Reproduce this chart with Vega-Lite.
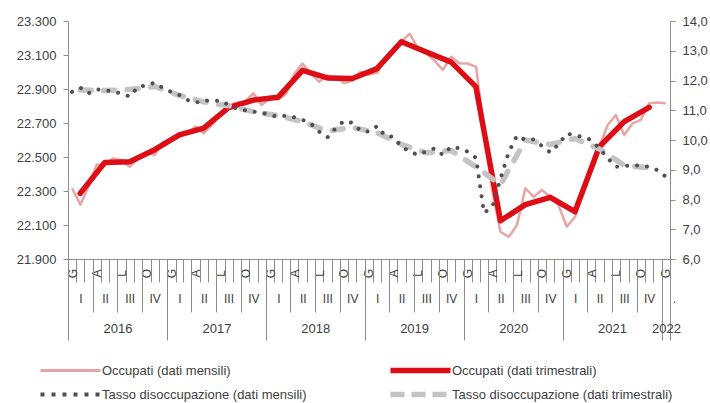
{
  "$schema": "https://vega.github.io/schema/vega-lite/v6.json",
  "width": 602,
  "height": 238,
  "autosize": {"type": "none"},
  "padding": {"left": 68, "top": 21, "right": 40, "bottom": 144},
  "background": "white",
  "config": {
    "font": "Liberation Sans",
    "view": {"stroke": null},
    "axis": {"grid": false, "labelFont": "Liberation Sans", "labelFontSize": 13, "labelColor": "#404040", "domainColor": "#8c8c8c", "tickColor": "#8c8c8c", "domainWidth": 1, "tickWidth": 1}
  },
  "datasets": {
    "mensili": [
      {"data": "2016-01-16", "occupati": 22316, "tasso": 11.62},
      {"data": "2016-02-16", "occupati": 22220, "tasso": 11.76},
      {"data": "2016-03-16", "occupati": 22322, "tasso": 11.57},
      {"data": "2016-04-16", "occupati": 22455, "tasso": 11.70},
      {"data": "2016-05-16", "occupati": 22455, "tasso": 11.68},
      {"data": "2016-06-16", "occupati": 22492, "tasso": 11.62},
      {"data": "2016-07-16", "occupati": 22480, "tasso": 11.57},
      {"data": "2016-08-16", "occupati": 22443, "tasso": 11.46},
      {"data": "2016-09-16", "occupati": 22490, "tasso": 11.79},
      {"data": "2016-10-16", "occupati": 22530, "tasso": 11.83},
      {"data": "2016-11-16", "occupati": 22512, "tasso": 11.93},
      {"data": "2016-12-16", "occupati": 22585, "tasso": 11.75},
      {"data": "2017-01-16", "occupati": 22610, "tasso": 11.62},
      {"data": "2017-02-16", "occupati": 22640, "tasso": 11.51},
      {"data": "2017-03-16", "occupati": 22640, "tasso": 11.35},
      {"data": "2017-04-16", "occupati": 22680, "tasso": 11.25},
      {"data": "2017-05-16", "occupati": 22640, "tasso": 11.34},
      {"data": "2017-06-16", "occupati": 22690, "tasso": 11.30},
      {"data": "2017-07-16", "occupati": 22750, "tasso": 11.33},
      {"data": "2017-08-16", "occupati": 22800, "tasso": 11.18},
      {"data": "2017-09-16", "occupati": 22820, "tasso": 11.05},
      {"data": "2017-10-16", "occupati": 22825, "tasso": 11.00},
      {"data": "2017-11-16", "occupati": 22875, "tasso": 10.95},
      {"data": "2017-12-16", "occupati": 22806, "tasso": 10.92},
      {"data": "2018-01-16", "occupati": 22845, "tasso": 10.84},
      {"data": "2018-02-16", "occupati": 22840, "tasso": 10.78},
      {"data": "2018-03-16", "occupati": 22870, "tasso": 10.82},
      {"data": "2018-04-16", "occupati": 22990, "tasso": 10.76},
      {"data": "2018-05-16", "occupati": 23050, "tasso": 10.68},
      {"data": "2018-06-16", "occupati": 22990, "tasso": 10.55},
      {"data": "2018-07-16", "occupati": 22943, "tasso": 10.28},
      {"data": "2018-08-16", "occupati": 22980, "tasso": 10.09},
      {"data": "2018-09-16", "occupati": 22972, "tasso": 10.40},
      {"data": "2018-10-16", "occupati": 22935, "tasso": 10.64},
      {"data": "2018-11-16", "occupati": 22950, "tasso": 10.58},
      {"data": "2018-12-16", "occupati": 23002, "tasso": 10.31},
      {"data": "2019-01-16", "occupati": 22985, "tasso": 10.28},
      {"data": "2019-02-16", "occupati": 22995, "tasso": 10.47},
      {"data": "2019-03-16", "occupati": 23080, "tasso": 10.15},
      {"data": "2019-04-16", "occupati": 23130, "tasso": 10.11},
      {"data": "2019-05-16", "occupati": 23180, "tasso": 9.78},
      {"data": "2019-06-16", "occupati": 23225, "tasso": 9.61},
      {"data": "2019-07-16", "occupati": 23140, "tasso": 9.50},
      {"data": "2019-08-16", "occupati": 23110, "tasso": 9.62},
      {"data": "2019-09-16", "occupati": 23065, "tasso": 9.72},
      {"data": "2019-10-16", "occupati": 23012, "tasso": 9.50},
      {"data": "2019-11-16", "occupati": 23090, "tasso": 9.78},
      {"data": "2019-12-16", "occupati": 23051, "tasso": 9.72},
      {"data": "2020-01-16", "occupati": 23050, "tasso": 9.61},
      {"data": "2020-02-16", "occupati": 23030, "tasso": 9.40},
      {"data": "2020-03-16", "occupati": 22670, "tasso": 7.55},
      {"data": "2020-04-16", "occupati": 22300, "tasso": 7.75},
      {"data": "2020-05-16", "occupati": 22060, "tasso": 8.70},
      {"data": "2020-06-16", "occupati": 22030, "tasso": 9.60},
      {"data": "2020-07-16", "occupati": 22100, "tasso": 10.15},
      {"data": "2020-08-16", "occupati": 22316, "tasso": 10.00},
      {"data": "2020-09-16", "occupati": 22266, "tasso": 10.02},
      {"data": "2020-10-16", "occupati": 22306, "tasso": 9.80},
      {"data": "2020-11-16", "occupati": 22266, "tasso": 9.58},
      {"data": "2020-12-16", "occupati": 22217, "tasso": 9.85},
      {"data": "2021-01-16", "occupati": 22090, "tasso": 10.22},
      {"data": "2021-02-16", "occupati": 22150, "tasso": 10.15},
      {"data": "2021-03-16", "occupati": 22295, "tasso": 10.11},
      {"data": "2021-04-16", "occupati": 22430, "tasso": 10.00},
      {"data": "2021-05-16", "occupati": 22560, "tasso": 9.72},
      {"data": "2021-06-16", "occupati": 22688, "tasso": 9.39},
      {"data": "2021-07-16", "occupati": 22747, "tasso": 9.10},
      {"data": "2021-08-16", "occupati": 22629, "tasso": 9.12},
      {"data": "2021-09-16", "occupati": 22698, "tasso": 9.16},
      {"data": "2021-10-16", "occupati": 22718, "tasso": 9.13},
      {"data": "2021-11-16", "occupati": 22816, "tasso": 9.10},
      {"data": "2021-12-16", "occupati": 22820, "tasso": 8.99},
      {"data": "2022-01-16", "occupati": 22816, "tasso": 8.77}
    ],
    "trimestrali": [
      {"data": "2016-02-15", "occupati": 22286, "tasso": 11.68},
      {"data": "2016-05-16", "occupati": 22468, "tasso": 11.66},
      {"data": "2016-08-16", "occupati": 22472, "tasso": 11.70},
      {"data": "2016-11-16", "occupati": 22543, "tasso": 11.80},
      {"data": "2017-02-15", "occupati": 22630, "tasso": 11.50},
      {"data": "2017-05-16", "occupati": 22670, "tasso": 11.28},
      {"data": "2017-08-16", "occupati": 22790, "tasso": 11.15},
      {"data": "2017-11-16", "occupati": 22835, "tasso": 10.95},
      {"data": "2018-02-15", "occupati": 22852, "tasso": 10.82},
      {"data": "2018-05-16", "occupati": 23010, "tasso": 10.62},
      {"data": "2018-08-16", "occupati": 22965, "tasso": 10.30},
      {"data": "2018-11-16", "occupati": 22962, "tasso": 10.42},
      {"data": "2019-02-15", "occupati": 23020, "tasso": 10.25},
      {"data": "2019-05-16", "occupati": 23178, "tasso": 9.85},
      {"data": "2019-08-16", "occupati": 23118, "tasso": 9.57},
      {"data": "2019-11-16", "occupati": 23058, "tasso": 9.65},
      {"data": "2020-02-15", "occupati": 22914, "tasso": 9.10},
      {"data": "2020-05-16", "occupati": 22125, "tasso": 8.50},
      {"data": "2020-08-16", "occupati": 22220, "tasso": 10.00},
      {"data": "2020-11-16", "occupati": 22263, "tasso": 9.85},
      {"data": "2021-02-15", "occupati": 22178, "tasso": 10.05},
      {"data": "2021-05-16", "occupati": 22560, "tasso": 9.70},
      {"data": "2021-08-16", "occupati": 22708, "tasso": 9.15},
      {"data": "2021-11-16", "occupati": 22792, "tasso": 9.06}
    ]
  },
  "layer": [
    {
      "encoding": {
        "y": {
          "field": "occupati", "type": "quantitative",
          "scale": {"domain": [21900, 23300], "zero": false, "nice": false},
          "axis": {"orient": "left", "title": null, "values": [21900, 22100, 22300, 22500, 22700, 22900, 23100, 23300], "labelExpr": "replace(format(datum.value, ','), ',', '.')", "tickSize": 5, "labelPadding": 7}
        }
      },
      "layer": [
        {
          "data": {"name": "mensili"},
          "mark": {"type": "line", "strokeWidth": 2.5, "opacity": 0.85, "strokeJoin": "round"},
          "encoding": {
            "x": {
              "field": "data", "type": "temporal",
              "scale": {"type": "utc", "domain": [{"year": 2016, "month": 1, "date": 1, "utc": true}, {"year": 2022, "month": 2, "date": 1, "utc": true}]},
              "axis": {"orient": "bottom", "title": null, "tickCount": {"interval": "month", "step": 1}, "tickSize": 23, "labelExpr": "utcmonth(datum.value) % 3 == 0 ? ['G','A','L','O'][floor(utcmonth(datum.value) / 3)] : ''", "labelAngle": 270, "labelAlign": "center", "labelBaseline": "middle", "labelPadding": -9, "labelOffset": 4.1, "labelFontSize": 12, "labelFlush": false, "labelOverlap": false, "labelBound": false, "domain": true}
            },
            "color": {
              "datum": "Occupati (dati mensili)", "type": "nominal",
              "scale": {"domain": ["Occupati (dati mensili)"], "range": ["#e39595"]},
              "legend": {"title": null, "orient": "none", "legendX": -4, "legendY": 343, "padding": 0, "symbolType": "M-30,0H30", "symbolSize": 4, "symbolStrokeWidth": 3, "labelFontSize": 13, "labelOffset": 25, "labelColor": "#404040", "labelLimit": 400}
            }
          }
        },
        {
          "data": {"name": "trimestrali"},
          "mark": {"type": "line", "strokeWidth": 5.5, "strokeJoin": "round", "strokeCap": "round"},
          "encoding": {
            "x": {
              "field": "data", "type": "temporal",
              "scale": {"type": "utc", "domain": [{"year": 2016, "month": 1, "date": 1, "utc": true}, {"year": 2022, "month": 2, "date": 1, "utc": true}]},
              "axis": {"orient": "bottom", "title": null, "values": [
                {"year": 2016, "month": 1, "date": 1, "utc": true},
                {"year": 2017, "month": 1, "date": 1, "utc": true},
                {"year": 2018, "month": 1, "date": 1, "utc": true},
                {"year": 2019, "month": 1, "date": 1, "utc": true},
                {"year": 2020, "month": 1, "date": 1, "utc": true},
                {"year": 2021, "month": 1, "date": 1, "utc": true},
                {"year": 2022, "month": 1, "date": 1, "utc": true},
                {"year": 2022, "month": 2, "date": 1, "utc": true}
              ], "tickSize": 81, "labels": false, "domain": false}
            },
            "color": {
              "datum": "Occupati (dati trimestrali)", "type": "nominal",
              "scale": {"domain": ["Occupati (dati trimestrali)"], "range": ["#dc0d15"]},
              "legend": {"title": null, "orient": "none", "legendX": 346, "legendY": 343, "padding": 0, "symbolType": "M-30,0H30", "symbolSize": 4, "symbolStrokeWidth": 5.5, "labelFontSize": 13, "labelOffset": 25, "labelColor": "#404040", "labelLimit": 400}
            }
          }
        }
      ],
      "resolve": {"axis": {"x": "independent"}, "scale": {"color": "independent"}}
    },
    {
      "encoding": {
        "y": {
          "field": "tasso", "type": "quantitative",
          "scale": {"domain": [6, 14], "zero": false, "nice": false},
          "axis": {"orient": "right", "title": null, "values": [6, 7, 8, 9, 10, 11, 12, 13, 14], "labelExpr": "replace(format(datum.value, '.1f'), '.', ',')", "tickSize": 5, "labelPadding": 7}
        }
      },
      "layer": [
        {
          "data": {"name": "trimestrali"},
          "mark": {"type": "line", "strokeWidth": 5.5, "strokeDash": [11, 12.5], "strokeCap": "round", "strokeJoin": "round"},
          "encoding": {
            "x": {
              "field": "data", "type": "temporal",
              "scale": {"type": "utc", "domain": [{"year": 2016, "month": 1, "date": 1, "utc": true}, {"year": 2022, "month": 2, "date": 1, "utc": true}]},
              "axis": {"orient": "bottom", "title": null, "tickCount": {"interval": "month", "step": 3}, "tickSize": 53, "labelExpr": "utcyear(datum.value) >= 2022 ? '.' : ['I','II','III','IV'][floor(utcmonth(datum.value) / 3)]", "labelOffset": 12.4, "labelPadding": -14, "labelAlign": "center", "labelBaseline": "middle", "labelFontSize": 12, "labelFlush": false, "labelOverlap": false, "labelBound": false, "domain": false}
            },
            "color": {
              "datum": "Tasso disoccupazione (dati trimestrali)", "type": "nominal",
              "scale": {"domain": ["Tasso disoccupazione (dati trimestrali)"], "range": ["#c4c4c4"]},
              "legend": {"title": null, "orient": "none", "legendX": 346, "legendY": 367, "padding": 0, "symbolType": "M-30,0H30", "symbolSize": 4, "symbolStrokeWidth": 5.5, "symbolDash": [14, 7], "labelFontSize": 13, "labelOffset": 25, "labelColor": "#404040", "labelLimit": 400}
            }
          }
        },
        {
          "data": {"name": "mensili"},
          "mark": {"type": "line", "strokeWidth": 4, "strokeDash": [0.01, 10], "strokeCap": "round", "strokeJoin": "round"},
          "encoding": {
            "x": {
              "field": "data", "type": "temporal",
              "scale": {"type": "utc", "domain": [{"year": 2016, "month": 1, "date": 1, "utc": true}, {"year": 2022, "month": 2, "date": 1, "utc": true}]},
              "axis": {"orient": "bottom", "title": null, "values": [
                {"year": 2016, "month": 7, "date": 2, "utc": true},
                {"year": 2017, "month": 7, "date": 2, "utc": true},
                {"year": 2018, "month": 7, "date": 2, "utc": true},
                {"year": 2019, "month": 7, "date": 2, "utc": true},
                {"year": 2020, "month": 7, "date": 2, "utc": true},
                {"year": 2021, "month": 7, "date": 2, "utc": true},
                {"year": 2022, "month": 1, "date": 17, "utc": true}
              ], "ticks": false, "tickSize": 0, "labelExpr": "utcFormat(datum.value, '%Y')", "labelPadding": 69, "labelAlign": "center", "labelBaseline": "middle", "labelFontSize": 13, "labelFlush": false, "labelOverlap": false, "labelBound": false, "domain": false}
            },
            "color": {
              "datum": "Tasso disoccupazione (dati mensili)", "type": "nominal",
              "scale": {"domain": ["Tasso disoccupazione (dati mensili)"], "range": ["#505050"]},
              "legend": {"title": null, "orient": "none", "legendX": -4, "legendY": 367, "padding": 0, "symbolType": "M-30,0H30", "symbolSize": 4, "symbolStrokeWidth": 4, "symbolDash": [4, 7], "labelFontSize": 13, "labelOffset": 25, "labelColor": "#404040", "labelLimit": 400}
            }
          }
        }
      ],
      "resolve": {"axis": {"x": "independent"}, "scale": {"color": "independent"}}
    }
  ],
  "resolve": {"scale": {"y": "independent", "color": "independent"}, "axis": {"x": "independent"}}
}
